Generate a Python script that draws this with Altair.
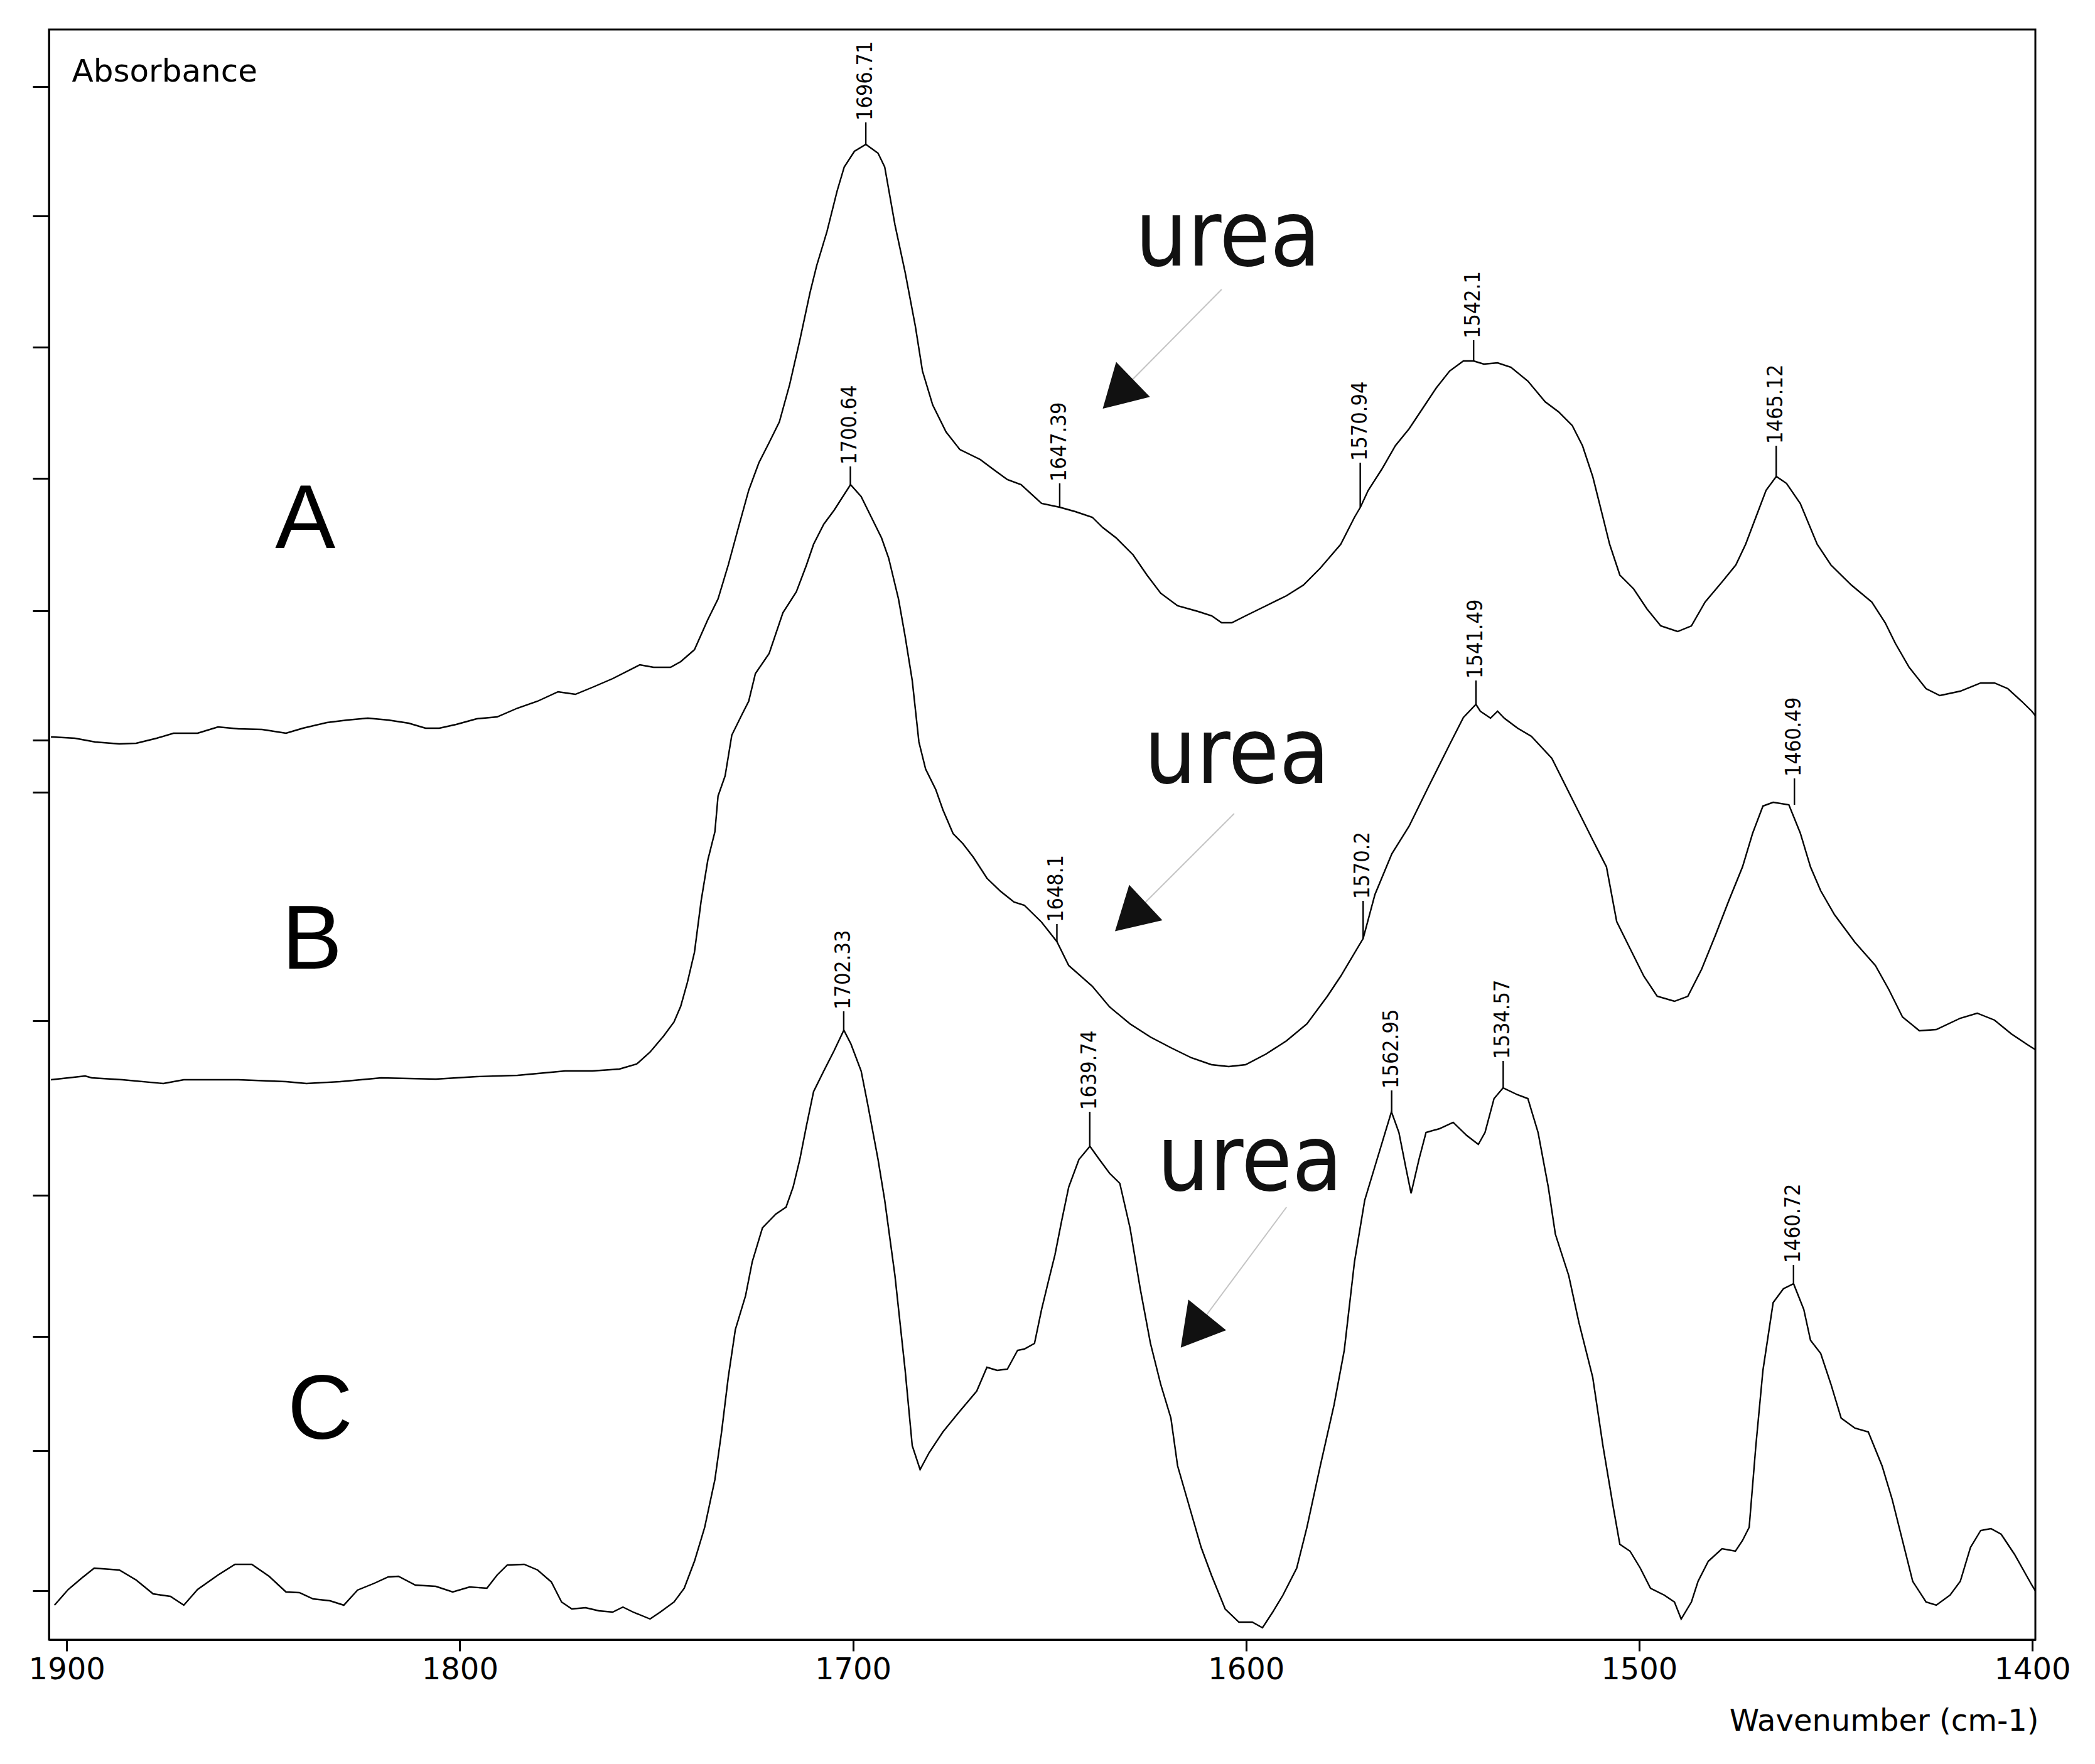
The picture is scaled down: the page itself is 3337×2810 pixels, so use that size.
import altair as alt
import pandas as pd

# ---------------- data ----------------
# wavenumber (cm-1) and stacked absorbance (milli-units, offset display)
wn_A = [1904.0, 1903.4, 1897.9, 1892.7, 1886.6, 1882.3, 1877.1, 1872.8, 1866.7, 1861.5,
        1856.3, 1850.3, 1844.2, 1839.9, 1833.8, 1828.6, 1823.4, 1818.2, 1813.0, 1808.7,
        1805.2, 1800.9, 1795.7, 1790.5, 1785.3, 1780.2, 1775.0, 1770.6, 1766.3, 1761.1,
        1754.2, 1750.7, 1746.4, 1743.8, 1740.3, 1736.9, 1734.3, 1731.7, 1729.1, 1726.5,
        1723.9, 1721.3, 1718.7, 1716.1, 1713.5, 1710.9, 1709.2, 1706.6, 1704.0, 1702.2,
        1699.6, 1696.7, 1693.6, 1691.9, 1689.3, 1686.7, 1684.1, 1682.3, 1679.7, 1676.3,
        1672.8, 1667.6, 1664.2, 1660.7, 1657.2,
        1652.0, 1647.4, 1643.4, 1639.1, 1636.5, 1633.0, 1628.7, 1625.2, 1621.7, 1617.4,
        1612.2, 1608.7, 1606.2, 1603.6, 1600.1, 1594.9, 1589.7, 1585.4, 1581.1, 1575.9,
        1572.4, 1570.9, 1568.9, 1565.5, 1562.0, 1558.5, 1555.1, 1551.6, 1548.2, 1544.7,
        1542.1, 1539.5, 1536.0, 1532.6, 1528.3, 1523.9, 1520.5, 1517.0, 1514.4, 1511.8,
        1509.2, 1507.5, 1504.9, 1501.4, 1498.0, 1494.5, 1490.2, 1486.7, 1483.2, 1478.9,
        1475.4, 1472.9, 1470.3, 1467.7, 1465.1, 1462.5, 1459.0, 1454.7, 1451.2, 1446.0,
        1440.8, 1437.4, 1434.8, 1431.3, 1427.0, 1423.5, 1418.3, 1413.1, 1409.6, 1406.2,
        1402.7, 1400.1, 1399.2]
abs_A = [1438, 1438, 1436, 1430, 1427, 1428, 1436, 1444, 1444, 1454,
         1451, 1450, 1444, 1452, 1461, 1465, 1468, 1465, 1460, 1452,
         1452, 1458, 1467, 1470, 1484, 1495, 1510, 1506, 1517, 1531,
         1553, 1549, 1549, 1558, 1577, 1625, 1658, 1712, 1772, 1831,
         1875, 1907, 1940, 1999, 2070, 2146, 2189, 2243, 2308, 2346,
         2371, 2382, 2368, 2346, 2254, 2178, 2092, 2021, 1967, 1924,
         1896, 1880, 1864, 1848, 1840,
         1810, 1804, 1797, 1788, 1772, 1755, 1728, 1696, 1667, 1647,
         1638, 1631, 1620, 1620, 1631, 1647, 1663, 1680, 1707, 1745,
         1788, 1804, 1831, 1864, 1902, 1929, 1961, 1994, 2021, 2037,
         2037, 2032, 2034, 2027, 2005, 1972, 1956, 1934, 1902, 1853,
         1788, 1745, 1696, 1674, 1642, 1615, 1606, 1615, 1653, 1685,
         1712, 1745, 1788, 1831, 1853, 1842, 1810, 1745, 1712, 1680,
         1653, 1620, 1587, 1549, 1515, 1504, 1511, 1524, 1524, 1515,
         1495, 1479, 1472]

wn_B = [1904.0, 1899.6, 1895.3, 1893.6, 1885.8, 1875.4, 1870.2, 1856.3, 1844.2, 1839.0,
        1830.4, 1820.0, 1806.1, 1795.7, 1785.3, 1773.2, 1766.3, 1759.4, 1755.0, 1751.6,
        1748.1, 1745.5, 1743.8, 1742.1, 1740.3, 1738.6, 1736.9,
        1735.1, 1734.3, 1732.5, 1730.8, 1728.2, 1726.5, 1724.8, 1721.3, 1717.8, 1714.4,
        1711.8, 1710.0, 1707.4, 1704.8, 1700.6, 1697.9, 1695.3, 1692.7, 1690.9, 1688.4,
        1686.7, 1684.9, 1683.2, 1681.5, 1678.9, 1677.1, 1674.5, 1672.0, 1669.3, 1665.9,
        1662.4, 1659.0, 1656.4,
        1652.0, 1648.1, 1645.1, 1639.1, 1634.7, 1629.5, 1624.3, 1619.1, 1613.9, 1608.8,
        1604.4, 1600.1, 1594.9, 1589.7, 1584.5, 1579.3, 1575.9, 1570.2, 1567.2, 1562.9,
        1558.5, 1553.4, 1548.2, 1544.7, 1541.5, 1540.4, 1537.8, 1536.0, 1534.3, 1530.9,
        1527.4, 1522.2, 1517.0, 1511.8, 1508.3, 1505.7, 1502.3, 1498.8, 1495.4, 1491.0,
        1487.6, 1484.1, 1480.6, 1477.2, 1473.7, 1471.1, 1468.5, 1465.9, 1461.9, 1459.0,
        1456.4, 1453.8, 1450.3, 1445.1, 1439.9, 1436.5, 1433.0, 1428.7, 1424.4, 1418.3,
        1414.0, 1409.6, 1405.3, 1401.0, 1399.2]
abs_B = [892, 895, 898, 895, 892, 886, 892, 892, 889, 886,
         889, 895, 893, 897, 899, 906, 906, 909, 917, 936,
         962, 984, 1009, 1047, 1095, 1177, 1242,
         1287, 1344, 1376, 1441, 1474, 1495, 1539, 1571, 1636, 1669,
         1712, 1745, 1777, 1799, 1840, 1821, 1788, 1755, 1723, 1658,
         1598, 1528, 1430, 1387, 1354, 1322, 1284, 1268, 1246, 1213,
         1192, 1175, 1170,
         1143, 1112, 1074, 1041, 1008, 981, 960, 943, 927, 916,
         913, 916, 933, 954, 981, 1025, 1057, 1117, 1187, 1252,
         1296, 1361, 1426, 1469, 1490, 1479, 1468, 1479, 1468, 1452,
         1439, 1404, 1339, 1274, 1231, 1144, 1101, 1057, 1025, 1017,
         1025, 1068, 1122, 1177, 1231, 1285, 1328, 1334, 1330, 1285,
         1231, 1193, 1155, 1111, 1074, 1036, 992, 970, 972, 990,
         998, 987, 965, 947, 940]

wn_C = [1903.1, 1899.6, 1896.2, 1893.0, 1886.6, 1882.3, 1878.0, 1873.6, 1870.2, 1866.7,
        1861.5, 1857.2, 1852.9, 1848.5, 1844.2, 1840.8, 1837.3, 1833.0, 1829.5, 1826.0,
        1821.7, 1818.2, 1815.6, 1811.3, 1806.1, 1801.8, 1797.5, 1793.1, 1790.5, 1787.9,
        1783.6, 1780.2, 1776.7, 1774.1, 1771.5, 1768.0, 1764.6, 1761.1, 1758.5, 1755.9,
        1751.6, 1749.0, 1745.5, 1742.9, 1740.3, 1737.7, 1735.1, 1733.4, 1731.7, 1729.9,
        1727.3, 1725.6, 1723.0, 1719.6, 1717.0, 1715.2, 1713.5, 1711.8, 1710.0, 1707.4,
        1704.8, 1702.3, 1700.5, 1697.9, 1696.2, 1693.6, 1691.9, 1689.3, 1686.7, 1684.9,
        1682.9, 1680.6, 1677.1, 1672.8, 1668.5, 1665.9, 1663.3, 1660.7, 1658.1, 1656.4,
        1653.8, 1652.0, 1650.3, 1648.6, 1646.9, 1645.1, 1642.5, 1639.7, 1637.3, 1634.7,
        1632.1, 1629.5, 1626.9, 1624.3, 1621.7, 1619.1, 1617.4, 1613.9, 1611.4, 1608.8,
        1605.3, 1601.8, 1598.4, 1595.8, 1593.2, 1590.6, 1587.1, 1584.5, 1581.1, 1577.6,
        1575.0, 1572.4, 1569.8, 1567.2, 1563.0, 1561.1, 1559.4, 1558.0, 1556.0, 1554.2,
        1550.8, 1547.3, 1543.8, 1540.9, 1539.2, 1536.9, 1534.6, 1530.9, 1528.3, 1525.7,
        1523.1, 1521.3, 1517.9, 1515.3, 1511.8, 1509.2, 1506.6, 1504.9, 1502.3, 1499.7,
        1497.1, 1493.6, 1491.0, 1489.3, 1486.7, 1485.0, 1482.4, 1478.9, 1475.5, 1473.7,
        1472.0, 1470.3, 1468.5, 1465.9, 1463.3, 1460.7, 1458.1, 1456.4, 1453.8, 1451.2,
        1448.6, 1445.1, 1441.7, 1438.2, 1435.6, 1433.0, 1430.4, 1427.0, 1424.4, 1420.9,
        1418.3, 1415.7, 1413.1, 1410.5, 1407.9, 1404.5, 1400.1, 1399.2]
abs_C = [55, 80, 98, 114, 111, 95, 73, 69, 55, 80,
         103, 120, 120, 101, 76, 75, 65, 62, 55, 79,
         90, 100, 101, 87, 85, 76, 84, 82, 103, 119,
         120, 111, 92, 60, 49, 51, 46, 44, 52, 44,
         33, 44, 60, 82, 125, 179, 255, 331, 418, 494,
         548, 602, 656, 678, 689, 721, 765, 819, 873, 906,
         938, 971, 949, 906, 852, 765, 700, 580, 429, 309,
         271, 298, 331, 364, 396, 434, 429, 431, 461, 463,
         472, 526, 570, 613, 667, 721, 765, 786, 765, 743,
         727, 656, 559, 472, 407, 353, 277, 201, 147, 103,
         49, 28, 28, 19, 44, 71, 114, 179, 277, 374,
         461, 602, 700, 754, 841, 808, 754, 711, 765, 808,
         814, 824, 803, 789, 808, 862, 879, 868, 862, 808,
         721, 646, 580, 505, 418, 309, 212, 152, 141, 114,
         82, 71, 60, 33, 60, 93, 125, 145, 141, 158,
         179, 309, 429, 537, 559, 567, 526, 477, 456, 407,
         353, 337, 331, 277, 223, 158, 93, 60, 55, 71,
         93, 147, 174, 177, 168, 136, 87, 78]

# peak annotations: label, wavenumber, value on curve, top of marker tick
peak_text = ["1696.71", "1647.39", "1570.94", "1542.1", "1465.12",
             "1700.64", "1648.1", "1570.2", "1541.49", "1460.49",
             "1702.33", "1639.74", "1562.95", "1534.57", "1460.72"]
peak_wn = [1696.71, 1647.39, 1570.94, 1542.1, 1465.12,
           1700.64, 1648.1, 1570.2, 1541.49, 1460.49,
           1702.33, 1639.74, 1562.95, 1534.57, 1460.72]
peak_val = [2382, 1804, 1804, 2037, 1853,
            1840, 1112, 1117, 1490, 1330,
            971, 786, 841, 879, 567]
peak_top = [2417, 1842, 1875, 2070, 1902,
            1869, 1140, 1177, 1528, 1372,
            1001, 841, 875, 922, 597]

# spectrum letters
letters = ["A", "B", "C"]
letter_wn = [1839.3, 1837.6, 1835.5]
letter_val = [1739, 1069, 320]

# "urea" annotations with arrows
urea_wn = [1604.6, 1602.3, 1599.0]
urea_val = [2189, 1365, 716]
arrow_wn0 = [1606.2, 1603.0, 1589.7]
arrow_val0 = [2151, 1316, 689]
arrow_wn1 = [1631.3, 1628.1, 1612.1]
arrow_val1 = [1992, 1159, 500]
arrow_angle = [226, 227, 219]

# unlabelled ticks of the stacked absorbance axis
y_ticks = [2474, 2268, 2059, 1850, 1639, 1433, 1350, 986, 708, 483, 301, 78]
x_ticks = [1900, 1800, 1700, 1600, 1500, 1400]

X_DOMAIN = [1399.2, 1904.5]
Y_DOMAIN = [0, 2565]
W, H = 3164, 2565

NARROW = "DejaVu Sans Condensed, Liberation Sans Narrow, Liberation Sans"

# ---------------- tables ----------------
rows = []
for name, wns, vals in [("A", wn_A, abs_A), ("B", wn_B, abs_B), ("C", wn_C, abs_C)]:
    for i, (w, v) in enumerate(zip(wns, vals)):
        rows.append({"spectrum": name, "wn": w, "absorb": v, "i": i})
spectra = pd.DataFrame(rows)

peaks = pd.DataFrame({"label": peak_text, "wn": peak_wn, "v": peak_val, "top": peak_top})
letters_df = pd.DataFrame({"t": letters, "wn": letter_wn, "v": letter_val})
urea_df = pd.DataFrame({"t": ["urea"] * 3, "wn": urea_wn, "v": urea_val})
arrows = pd.DataFrame({"wn0": arrow_wn0, "v0": arrow_val0, "wn1": arrow_wn1,
                       "v1": arrow_val1, "ang": arrow_angle})

xscale = alt.Scale(domain=X_DOMAIN, reverse=True, nice=False, zero=False)
yscale = alt.Scale(domain=Y_DOMAIN, nice=False, zero=False)

x_axis = alt.Axis(values=x_ticks, format="d", labelFont="DejaVu Sans", labelFontSize=48,
                  labelColor="black", labelFlush=False, labelOverlap=False, labelPadding=6,
                  tickSize=18, tickWidth=3, tickColor="black", domainColor="black",
                  domainWidth=3, grid=False, title="Wavenumber (cm-1)",
                  titleFont="DejaVu Sans", titleFontSize=48, titleFontWeight="normal",
                  titleColor="black", titleX=3169, titleY=130, titleAlign="right",
                  titleBaseline="middle", titleAngle=0)
y_axis = alt.Axis(values=y_ticks, labels=False, tickSize=26, tickWidth=3, tickColor="black",
                  domainColor="black", domainWidth=3, grid=False, title="Absorbance",
                  titleFont="DejaVu Sans", titleFontSize=50, titleFontWeight="normal",
                  titleColor="black", titleAngle=0, titleX=36, titleY=67,
                  titleAlign="left", titleBaseline="middle")

base_x = alt.X("wn:Q", scale=xscale, axis=x_axis)

lines = alt.Chart(spectra).mark_line(color="black", strokeWidth=2.4).encode(
    x=base_x,
    y=alt.Y("absorb:Q", scale=yscale, axis=y_axis),
    detail="spectrum:N",
    order="i:Q",
)

peak_rules = alt.Chart(peaks).mark_rule(color="black", strokeWidth=2.4).encode(
    x=alt.X("wn:Q", scale=xscale),
    y=alt.Y("v:Q", scale=yscale),
    y2="top:Q",
)

peak_labels = alt.Chart(peaks).mark_text(
    angle=270, align="left", baseline="middle", dx=3, fontSize=34,
    font=NARROW, color="black"
).encode(
    x=alt.X("wn:Q", scale=xscale),
    y=alt.Y("top:Q", scale=yscale),
    text="label:N",
)

letter_marks = alt.Chart(letters_df).mark_text(
    fontSize=144, font="Liberation Sans", align="center", baseline="alphabetic", color="black"
).encode(
    x=alt.X("wn:Q", scale=xscale),
    y=alt.Y("v:Q", scale=yscale),
    text="t:N",
)

urea_marks = alt.Chart(urea_df).mark_text(
    fontSize=146, font=NARROW, align="center", baseline="alphabetic", color="#111111"
).encode(
    x=alt.X("wn:Q", scale=xscale),
    y=alt.Y("v:Q", scale=yscale),
    text="t:N",
)

arrow_lines = alt.Chart(arrows).mark_rule(color="#c4c4c4", strokeWidth=2).encode(
    x=alt.X("wn0:Q", scale=xscale),
    y=alt.Y("v0:Q", scale=yscale),
    x2="wn1:Q",
    y2="v1:Q",
)

arrow_heads = alt.Chart(arrows).mark_point(
    shape="triangle", filled=True, color="#111111", size=6000, opacity=1
).encode(
    x=alt.X("wn1:Q", scale=xscale),
    y=alt.Y("v1:Q", scale=yscale),
    angle=alt.Angle("ang:Q", scale=None),
)

chart = alt.layer(
    lines, peak_rules, peak_labels, letter_marks, urea_marks, arrow_lines, arrow_heads
).properties(
    width=W, height=H,
    autosize=alt.AutoSizeParams(type="none"),
    padding={"left": 70, "top": 39, "right": 60, "bottom": 190},
    background="white",
).configure_view(
    stroke="black", strokeWidth=3
)

chart.save("out.html", embed_options={"renderer": "svg", "actions": False})
